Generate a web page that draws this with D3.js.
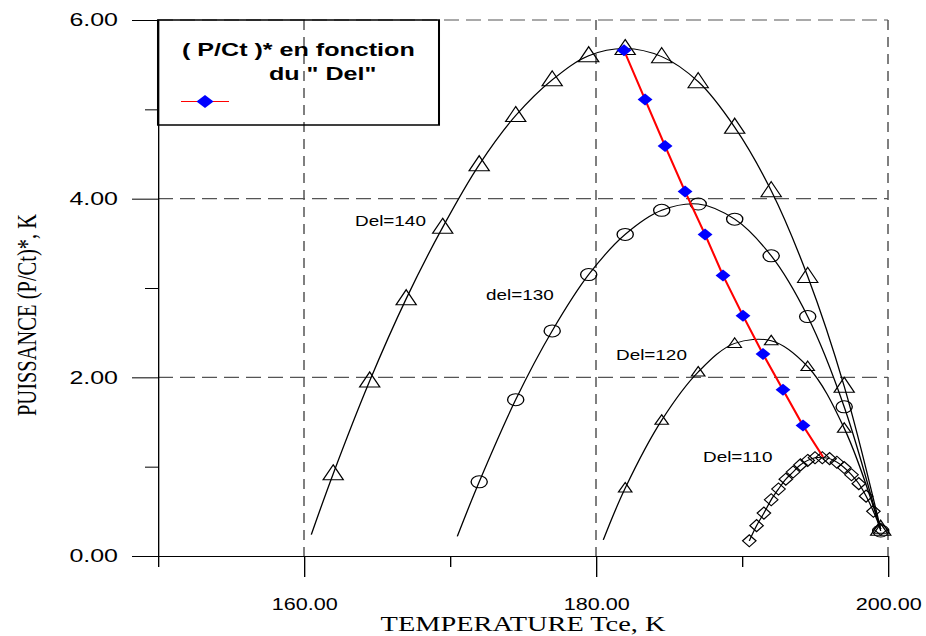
<!DOCTYPE html>
<html>
<head>
<meta charset="utf-8">
<script src="https://cdn.jsdelivr.net/npm/d3@7"></script>
<style>
  html, body { margin: 0; padding: 0; background: #fff; overflow: hidden; }
</style>
</head>
<body>
<svg id="chart"></svg>
<script>
// Curve data: temperature Tce (K) and power (P/Ct)*
const del140T = [162, 164.5, 167, 169.5, 172, 174.5, 177, 179.5, 182, 184.5, 187, 189.5, 192, 194.5, 197, 199.5];
const del140P = [0.92, 1.96, 2.88, 3.68, 4.38, 4.93, 5.33, 5.60, 5.68, 5.59, 5.31, 4.80, 4.09, 3.13, 1.90, 0.30];
const del140Start = [160.5, 0.24];

const del130T = [172, 174.5, 177, 179.5, 182, 184.5, 187, 189.5, 192, 194.5, 197, 199.5];
const del130P = [0.83, 1.75, 2.52, 3.15, 3.60, 3.87, 3.94, 3.77, 3.36, 2.68, 1.67, 0.28];
const del130Start = [170.5, 0.22];

const del120T = [182, 184.5, 187, 189.5, 192, 194.5, 197, 199.5];
const del120P = [0.76, 1.52, 2.06, 2.38, 2.41, 2.12, 1.43, 0.30];
const del120Start = [180.5, 0.18];

const del110T = [190.5, 191, 191.5, 192, 192.5, 193, 193.5, 194, 194.5, 195, 195.5, 196, 196.5, 197, 197.5, 198, 198.5, 199, 199.5];
const del110P = [0.17, 0.34, 0.48, 0.63, 0.75, 0.86, 0.94, 1.02, 1.07, 1.10, 1.10, 1.09, 1.05, 0.99, 0.91, 0.81, 0.67, 0.50, 0.30];

// optimum line (red) with blue diamonds; last point has no marker
const optT = [181.92, 183.36, 184.73, 186.10, 187.47, 188.70, 190.07, 191.44, 192.81, 194.18, 195.55];
const optP = [5.66, 5.11, 4.59, 4.08, 3.60, 3.14, 2.69, 2.26, 1.86, 1.46, 1.11];

const xMajor = [160, 180, 200];
const xMinor = [150, 170, 190];
const yMajor = [0, 2, 4, 6];
const yMinor = [1, 3, 5];

const curveLabels = ['Del=140', 'del=130', 'Del=120', 'Del=110'];

// the original picture is stretched horizontally, so draw in a narrower box
const S = 1.35, W = 926, H = 636;
const sx = v => v / S;

const svg = d3.select('#chart')
    .attr('width', W)
    .attr('height', H)
    .attr('viewBox', `0 0 ${W / S} ${H}`)
    .attr('preserveAspectRatio', 'none');

const x = d3.scaleLinear().domain([150, 200]).range([sx(158), sx(888)]);
const y = d3.scaleLinear().domain([0, 6]).range([556, 20]);

const sans = 'Liberation Sans, Arial, Helvetica, sans-serif';
const serif = 'Liberation Serif, Times New Roman, serif';

// grid lines
svg.append('g').selectAll('line')
    .data(yMajor.filter(d => d > 0))
    .join('line')
    .attr('x1', x(150)).attr('x2', x(200))
    .attr('y1', d => y(d)).attr('y2', d => y(d))
    .attr('stroke', '#555').attr('stroke-width', 1.2)
    .attr('stroke-dasharray', `${sx(15)} ${sx(7)}`);

svg.append('g').selectAll('line')
    .data(xMajor)
    .join('line')
    .attr('x1', d => x(d)).attr('x2', d => x(d))
    .attr('y1', y(6)).attr('y2', y(0))
    .attr('stroke', '#555').attr('stroke-width', sx(1.5))
    .attr('stroke-dasharray', '10 7');

// axes
const gx = svg.append('g')
    .attr('transform', `translate(0,${y(0)})`)
    .call(d3.axisBottom(x).tickValues(xMajor).tickSize(21).tickSizeOuter(0)
        .tickPadding(22).tickFormat(d3.format('.2f')));
svg.append('g')
    .attr('transform', `translate(0,${y(0)})`)
    .call(d3.axisBottom(x).tickValues(xMinor).tickSize(11).tickSizeOuter(0).tickFormat(''))
    .call(g => g.select('.domain').remove());

const gy = svg.append('g')
    .attr('transform', `translate(${x(150)},0)`)
    .call(d3.axisLeft(y).tickValues(yMajor).tickSize(sx(26)).tickSizeOuter(0)
        .tickPadding(sx(14)).tickFormat(d3.format('.2f')));
svg.append('g')
    .attr('transform', `translate(${x(150)},0)`)
    .call(d3.axisLeft(y).tickValues(yMinor).tickSize(sx(13)).tickSizeOuter(0).tickFormat(''))
    .call(g => g.select('.domain').remove());

svg.selectAll('.domain, .tick line').attr('stroke', '#000');
gx.attr('font-family', sans).attr('font-size', 16).selectAll('text').attr('fill', '#000');
gy.attr('font-family', sans).attr('font-size', 18.5).selectAll('text').attr('fill', '#000');

// axis titles
svg.append('text')
    .attr('x', (x(150) + x(200)) / 2).attr('y', 631)
    .attr('text-anchor', 'middle')
    .attr('font-family', serif).attr('font-size', 21)
    .text('TEMPERATURE Tce, K');

svg.append('text')
    .attr('transform', `translate(${sx(36)},315) rotate(-90)`)
    .attr('text-anchor', 'middle')
    .attr('font-family', serif).attr('font-size', 20.5)
    .text('PUISSANCE (P/Ct)*, K');

// curves
const line = d3.line().x(d => x(d[0])).y(d => y(d[1])).curve(d3.curveCatmullRom.alpha(0.5));
const zip = (a, b) => a.map((t, i) => [t, b[i]]);

const series = [
    { pts: zip(del140T, del140P), start: del140Start, sym: 'M0,-9L7.5,6L-7.5,6Z' },
    { pts: zip(del130T, del130P), start: del130Start, sym: 'circle' },
    { pts: zip(del120T, del120P), start: del120Start, sym: 'M0,-5.5L5,4L-5,4Z' },
    { pts: zip(del110T, del110P), start: null, sym: 'M0,-6L5,0L0,6L-5,0Z' }
];

series.forEach(s => {
    const linePts = s.start ? [s.start].concat(s.pts) : s.pts;
    svg.append('path')
        .attr('d', line(linePts))
        .attr('fill', 'none').attr('stroke', '#000').attr('stroke-width', 1);

    const g = svg.append('g');
    if (s.sym === 'circle') {
        g.selectAll('circle').data(s.pts).join('circle')
            .attr('cx', d => x(d[0])).attr('cy', d => y(d[1])).attr('r', 6)
            .attr('fill', 'none').attr('stroke', '#000').attr('stroke-width', 1);
    } else {
        g.selectAll('path').data(s.pts).join('path')
            .attr('transform', d => `translate(${x(d[0])},${y(d[1])})`)
            .attr('d', s.sym)
            .attr('fill', 'none').attr('stroke', '#000').attr('stroke-width', 1);
    }
});

// optimum line
const opt = zip(optT, optP);
svg.append('path')
    .attr('d', d3.line().x(d => x(d[0])).y(d => y(d[1]))(opt))
    .attr('fill', 'none').attr('stroke', '#ff0000').attr('stroke-width', 1.6);
svg.append('g').selectAll('path')
    .data(opt.slice(0, -1))
    .join('path')
    .attr('transform', d => `translate(${x(d[0])},${y(d[1])})`)
    .attr('d', 'M0,-6L5.5,0L0,6L-5.5,0Z')
    .attr('fill', '#0000ff');

// curve labels
const labelPos = [[355, 226], [486, 300], [616, 360], [703, 462]];
svg.append('g').selectAll('text')
    .data(curveLabels)
    .join('text')
    .attr('x', (d, i) => sx(labelPos[i][0]))
    .attr('y', (d, i) => labelPos[i][1])
    .attr('font-family', sans).attr('font-size', 14)
    .text(d => d);

// legend
const lg = svg.append('g');
lg.append('rect')
    .attr('x', sx(158)).attr('y', 20)
    .attr('width', sx(439) - sx(158)).attr('height', 105)
    .attr('fill', 'none').attr('stroke', '#000').attr('stroke-width', 1.5);
lg.append('text')
    .attr('x', sx(182)).attr('y', 56)
    .attr('font-family', sans).attr('font-weight', 'bold').attr('font-size', 18.6)
    .text('( P/Ct )* en fonction');
lg.append('text')
    .attr('x', sx(269)).attr('y', 80)
    .attr('font-family', sans).attr('font-weight', 'bold').attr('font-size', 18.6)
    .text('du " Del"');
lg.append('line')
    .attr('x1', sx(181)).attr('x2', sx(229)).attr('y1', 101.5).attr('y2', 101.5)
    .attr('stroke', '#ff0000').attr('stroke-width', 1.2);
lg.append('path')
    .attr('transform', `translate(${sx(205)},101.5)`)
    .attr('d', 'M0,-6.5L6.3,0L0,6.5L-6.3,0Z')
    .attr('fill', '#0000ff');
</script>
</body>
</html>
